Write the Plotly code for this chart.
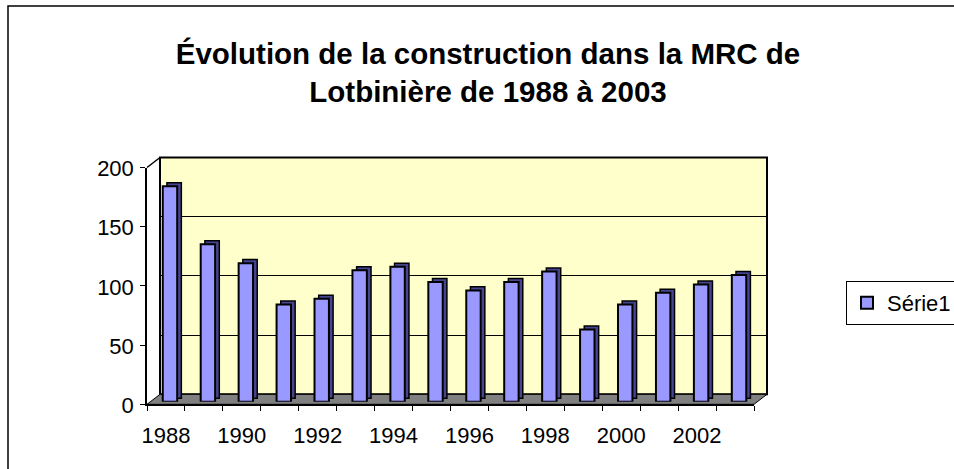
import plotly.graph_objects as go

# ---- data ----
years = ["1988", "1989", "1990", "1991", "1992", "1993", "1994", "1995",
         "1996", "1997", "1998", "1999", "2000", "2001", "2002", "2003"]
values = [182, 133, 117, 82, 87, 111, 114, 101, 94, 101, 110, 61, 82, 92, 99, 107]
y_ticks = [0, 50, 100, 150, 200]
series_name = "Série1"
title_text = "Évolution de la construction dans la MRC de<br>Lotbinière de 1988 à 2003"

# ---- geometry (pixels in the 954x469 window) ----
W, H = 954, 469
BACK = dict(x0=160, x1=767, ytop=157.5, ybot=394.3)
FRONT_D = (-13, 10.0)   # offset of front plane vs back wall
BAR_D = (-9, 7.4)       # offset of the bar plane vs back wall


def px(x):
    return x / W


def py(y):
    return 1 - y / H


def dom(dx, dy):
    return ([px(BACK["x0"] + dx), px(BACK["x1"] + dx)],
            [py(BACK["ybot"] + dy), py(BACK["ytop"] + dy)])


bx, by = dom(0, 0)
fx, fy = dom(*FRONT_D)
qx, qy = dom(*BAR_D)

FONT = "Liberation Sans, Arial, sans-serif"
n = len(years)
idx = list(range(n))

fig = go.Figure()

# transparent carriers so the back-wall and front-axis subplots are drawn
fig.add_trace(go.Bar(x=idx, y=values, xaxis="x", yaxis="y", opacity=0,
                     showlegend=False, hoverinfo="skip"))
fig.add_trace(go.Bar(x=idx, y=values, xaxis="x3", yaxis="y3", opacity=0,
                     showlegend=False, hoverinfo="skip"))

# side / depth of columns
fig.add_trace(go.Bar(
    x=years, y=values, base=3, xaxis="x2", yaxis="y2",
    width=0.38, offset=-0.08,
    marker=dict(color="#454590", line=dict(color="black", width=1.5)),
    showlegend=False, hoverinfo="skip"))
# front face of columns
fig.add_trace(go.Bar(
    x=years, y=values, xaxis="x2", yaxis="y2", name=series_name,
    width=0.38, offset=-0.19,
    marker=dict(color="#9999FF", line=dict(color="black", width=2))))

fig.update_layout(
    width=W, height=H,
    margin=dict(l=0, r=0, t=0, b=0, autoexpand=False),
    paper_bgcolor="white", plot_bgcolor="rgba(0,0,0,0)",
    barmode="overlay",
    font=dict(family=FONT, color="black", size=22),
    title=dict(text="<b>" + title_text + "</b>", x=px(488), xanchor="center",
               y=py(64), yanchor="middle", automargin=False,
               font=dict(family=FONT, size=29.5, color="black")),
    # back wall subplot
    xaxis=dict(domain=bx, anchor="y", range=[-0.5, n - 0.5], showgrid=False,
               zeroline=False, showticklabels=False, ticks="", showline=False),
    yaxis=dict(domain=by, anchor="x", range=[0, 200], tickvals=y_ticks,
               showgrid=True, gridcolor="black", gridwidth=1, zeroline=False,
               showticklabels=False, ticks="", showline=False),
    # bars subplot
    xaxis2=dict(domain=qx, anchor="y2", type="category", range=[-0.5, n - 0.5],
                visible=False),
    yaxis2=dict(domain=qy, anchor="x2", range=[0, 200], visible=False),
    # front axes
    xaxis3=dict(domain=fx, anchor="y3", type="linear", range=[-0.5, n - 0.5],
                tickvals=idx[::2], ticktext=years[::2],
                ticks="", showgrid=False, zeroline=False, automargin=False,
                showline=True, linecolor="black", linewidth=1.5,
                ticklabelstandoff=11,
                minor=dict(ticks="outside", tick0=-0.5, dtick=1, ticklen=5,
                           tickcolor="black", tickwidth=1, showgrid=False),
                tickfont=dict(size=22)),
    yaxis3=dict(domain=fy, anchor="x3", range=[0, 200], tickvals=y_ticks,
                ticks="outside", ticklen=5, tickcolor="black", tickwidth=1,
                showgrid=False, zeroline=False, automargin=False,
                showline=True, linecolor="black", linewidth=1.5,
                ticklabelshift=1, ticklabelstandoff=2,
                tickfont=dict(size=22)),
    legend=dict(x=px(846), y=py(281), xanchor="left", yanchor="top",
                bordercolor="black", borderwidth=1, bgcolor="white",
                font=dict(size=22), itemwidth=30),
)

fdx, fdy = FRONT_D
floor_path = "M {a},{b} L {c},{b} L {d},{e} L {f},{e} Z".format(
    a=px(BACK["x0"] + fdx), b=py(BACK["ybot"] + fdy), c=px(BACK["x1"] + fdx),
    d=px(BACK["x1"]), e=py(BACK["ybot"]), f=px(BACK["x0"]))
top_edge = "M {a},{b} L {c},{d}".format(
    a=px(BACK["x0"] + fdx), b=py(BACK["ytop"] + fdy),
    c=px(BACK["x0"]), d=py(BACK["ytop"]))

fig.update_layout(shapes=[
    # outer chart border
    dict(type="rect", xref="paper", yref="paper", x0=px(8), x1=1.05,
         y0=-0.05, y1=py(6), line=dict(color="black", width=1.5),
         fillcolor="rgba(0,0,0,0)", layer="above"),
    # back wall
    dict(type="rect", xref="x domain", yref="y domain", x0=0, x1=1, y0=0, y1=1,
         fillcolor="#FFFFCC", line=dict(color="black", width=2), layer="below"),
    # floor
    dict(type="path", xref="paper", yref="paper", path=floor_path,
         fillcolor="#808080", line=dict(color="black", width=1), layer="below"),
    # left wall top edge
    dict(type="path", xref="paper", yref="paper", path=top_edge,
         line=dict(color="black", width=1.5)),
])

fig.write_html(
    "out.html",
    config={"displayModeBar": False},
    post_script="document.body.style.margin='0';"
                "document.body.style.overflow='hidden';")
